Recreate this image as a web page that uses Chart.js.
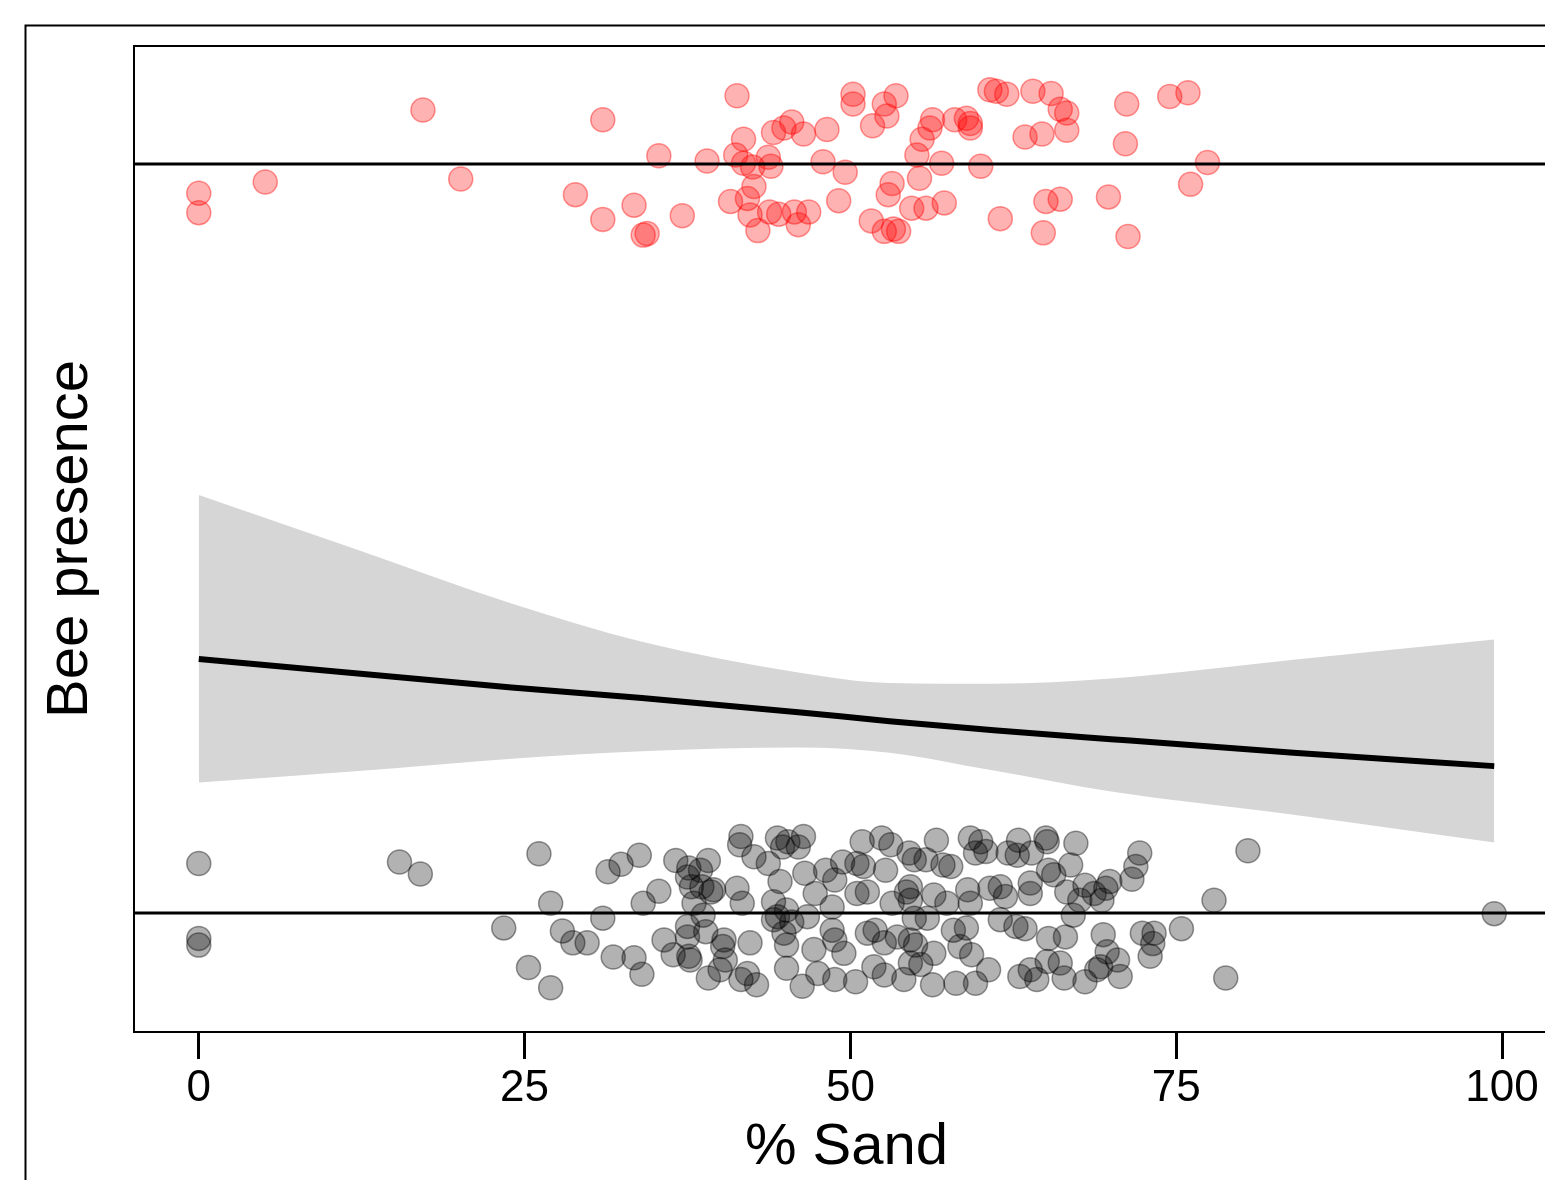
<!DOCTYPE html>
<html>
<head>
<meta charset="utf-8">
<script src="https://cdn.jsdelivr.net/npm/chart.js@4"></script>
<style>
  html, body { margin: 0; padding: 0; background: #fff; overflow: hidden; }
  #wrap { position: absolute; left: 0; top: 0; }
</style>
</head>
<body>
<div id="wrap"><canvas id="plot" width="1600" height="1200"></canvas></div>
<script>
// bees present (jittered around 1)
const presentSand = [
  0, 0, 5.1, 17.2, 20.1, 41.3, 31.0, 50.2, 50.2, 35.3,
  39.0, 41.8, 41.2, 41.8, 42.5, 43.7, 43.9, 44.1, 44.9, 45.5,
  46.4, 48.2, 47.9, 49.6, 42.6, 42.1, 40.8, 49.1, 28.9, 31.0,
  33.4, 37.1, 34.4, 34.1, 42.3, 42.9, 43.8, 44.5, 45.7, 46.8,
  46.0, 53.5, 52.6, 52.8, 51.7, 56.3, 56.1, 58.0, 58.9, 59.2,
  59.2, 55.5, 55.1, 57.0, 55.3, 60.0, 60.7, 61.2, 62.0, 64.0,
  65.4, 66.1, 66.6, 66.6, 63.4, 64.7, 71.2, 71.1, 53.2, 52.9,
  51.6, 52.6, 53.3, 53.7, 54.7, 55.8, 57.2, 61.5, 65.0, 66.1,
  64.8, 69.8, 71.3, 74.5, 75.9, 77.4, 76.1
];
const presentJitter = [
  0.961, 0.935, 0.976, 1.072, 0.980, 1.091, 1.059, 1.093, 1.080, 1.011,
  1.004, 1.033, 1.012, 1.001, 0.996, 1.009, 0.997, 1.042, 1.048, 1.056,
  1.040, 1.046, 1.003, 0.989, 0.970, 0.954, 0.950, 0.951, 0.959, 0.926,
  0.945, 0.931, 0.907, 0.905, 0.932, 0.911, 0.936, 0.933, 0.936, 0.936,
  0.919, 1.091, 1.080, 1.064, 1.051, 1.059, 1.048, 1.059, 1.061, 1.054,
  1.048, 1.033, 1.012, 1.001, 0.981, 0.997, 1.099, 1.097, 1.093, 1.097,
  1.094, 1.073, 1.068, 1.045, 1.036, 1.040, 1.080, 1.027, 0.974, 0.959,
  0.924, 0.910, 0.913, 0.910, 0.941, 0.941, 0.948, 0.927, 0.950, 0.953,
  0.908, 0.956, 0.903, 1.090, 1.095, 1.002, 0.973
];

// bees absent (jittered around 0)
const absentSand = [
  0, 0, 0, 15.4, 17.0, 26.1, 23.4, 25.3,
  27.0, 27.0, 27.9, 28.7, 29.8, 31.0, 31.4, 32.4, 33.8, 35.3,
  34.1, 31.8, 33.4, 34.0, 36.6, 37.6, 39.1, 38.5, 37.5, 37.8,
  38.6, 39.3, 38.0, 38.7, 37.5, 37.5, 38.9, 35.7, 36.4, 37.6,
  37.7, 39.1, 40.2, 40.4,
  41.6, 41.5, 44.4, 45.2, 46.4, 46.0, 44.8, 42.6, 43.7, 44.6,
  46.5, 48.1, 48.8, 49.4, 50.5, 50.9, 52.4, 53.1, 52.7, 51.0,
  54.5, 54.9,
  39.5, 41.3, 41.7, 44.1, 45.1, 44.4, 47.3, 48.6, 50.5, 51.3,
  53.2, 54.3, 54.6, 44.1, 45.5, 46.7, 40.3, 42.3, 44.9, 45.1,
  47.2, 48.6, 48.8, 49.5, 51.3, 51.9, 52.6, 53.6, 54.6, 40.0,
  41.6, 42.8, 42.1, 45.1, 46.3, 47.5, 48.8, 50.4, 51.8, 52.6,
  54.1, 54.6,
  56.6, 59.2, 60.0, 62.9, 65.0, 65.1, 67.3, 55.8, 57.7, 57.1,
  59.6, 60.4, 62.1, 63.9, 62.8, 65.6, 66.9, 65.2, 54.6, 56.4,
  57.4, 59.0, 59.2, 60.7, 61.5, 61.9, 63.8, 63.8, 66.6, 68.0,
  67.6, 69.3, 67.1, 54.9, 55.9, 61.5, 62.7, 63.4, 57.9, 58.9,
  55.0, 58.4, 56.4, 59.3, 60.6, 65.2, 66.5, 55.4, 56.3, 58.1,
  59.6, 63.0, 63.8, 64.3, 65.1, 66.1, 66.4, 68.0, 69.2, 69.4,
  69.7,
  72.2, 71.9, 71.6, 69.9, 69.6, 68.7, 80.5, 77.9, 99.4, 75.4,
  72.4, 73.3, 73.2, 73.0, 70.5, 68.9, 70.7, 78.8
];
const absentJitter = [
  0.066, -0.034, -0.043, 0.068, 0.052, 0.079, -0.020, -0.073,
  0.013, -0.100, -0.024, -0.040, -0.040, -0.007, 0.055, 0.065, 0.077, 0.029,
  0.013, -0.059, -0.060, -0.082, 0.070, 0.060, 0.070, 0.057, 0.048, 0.035,
  0.035, 0.028, 0.013, -0.003, -0.018, -0.032, -0.025, -0.036, -0.056, -0.058,
  -0.063, -0.087, -0.045, -0.063,
  0.102, 0.091, 0.100, 0.095, 0.102, 0.088, 0.088, 0.075, 0.066, 0.042,
  0.053, 0.057, 0.044, 0.068, 0.066, 0.095, 0.100, 0.091, 0.057, 0.062,
  0.080, 0.071,
  0.031, 0.033, 0.013, 0.015, 0.004, -0.005, 0.026, 0.008, 0.026, 0.028,
  0.013, 0.028, 0.017, -0.009, -0.012, -0.005, -0.036, -0.040, -0.027, -0.043,
  -0.049, -0.023, -0.036, -0.054, -0.027, -0.023, -0.040, -0.032, -0.036, -0.076,
  -0.089, -0.096, -0.081, -0.074, -0.098, -0.081, -0.089, -0.092, -0.072, -0.083,
  -0.089, -0.067,
  0.097, 0.100, 0.095, 0.097, 0.100, 0.095, 0.093, 0.071, 0.062, 0.064,
  0.080, 0.082, 0.080, 0.080, 0.077, 0.051, 0.064, 0.057, 0.035, 0.024,
  0.013, 0.031, 0.013, 0.033, 0.035, 0.022, 0.040, 0.026, 0.028, 0.037,
  0.017, 0.017, -0.003, -0.007, -0.007, -0.009, -0.018, -0.021, -0.023, -0.020,
  -0.043, -0.045, -0.054, -0.056, -0.076, -0.034, -0.032, -0.069, -0.096, -0.094,
  -0.094, -0.085, -0.076, -0.089, -0.065, -0.067, -0.087, -0.092, -0.072, -0.029,
  -0.052,
  0.080, 0.062, 0.045, 0.042, 0.033, 0.026, 0.083, 0.017, -0.001, -0.021,
  -0.027, -0.027, -0.041, -0.058, -0.063, -0.076, -0.085, -0.087
];

// fitted curve and its confidence band
const fitSand  = [0, 12, 24, 34, 46, 53, 61, 70, 84, 99.4];
const fitProb  = [0.339, 0.320, 0.301, 0.287, 0.268, 0.256, 0.244, 0.232, 0.214, 0.196];
const fitLower = [0.174, 0.189, 0.206, 0.216, 0.221, 0.214, 0.190, 0.162, 0.131, 0.094];
const fitUpper = [0.558, 0.486, 0.413, 0.362, 0.321, 0.307, 0.306, 0.313, 0.338, 0.365];

const refLevels = [0, 1];
const xTicks = [0, 25, 50, 75, 100];
const xMin = -4.97, xMax = 104.37;
const yMin = -0.159, yMax = 1.1575;

const FONT = "'Liberation Sans', Arial, sans-serif";

const pts = (xs, ys) => xs.map((x, i) => ({x: x, y: ys[i]}));

const frame = {
  id: 'frame',
  beforeDraw(chart) {
    const ctx = chart.ctx;
    ctx.save();
    ctx.fillStyle = '#fff';
    ctx.fillRect(0, 0, chart.width, chart.height);
    ctx.strokeStyle = '#000';
    ctx.lineWidth = 2;
    ctx.strokeRect(25.5, 25.5, chart.width - 10, chart.height - 10);
    ctx.restore();
  },
  afterDraw(chart) {
    const ctx = chart.ctx;
    const a = chart.chartArea;
    ctx.save();
    ctx.strokeStyle = '#000';
    ctx.lineWidth = 2;
    ctx.strokeRect(a.left, a.top, a.right - a.left, a.bottom - a.top);
    ctx.restore();
  }
};

const datasets = [
  {
    data: pts(fitSand, fitProb),
    borderColor: '#000', borderWidth: 6, pointRadius: 0,
    cubicInterpolationMode: 'monotone', fill: false, order: 1
  }
];
refLevels.forEach(level => {
  datasets.push({
    data: [{x: xMin, y: level}, {x: xMax, y: level}],
    borderColor: '#000', borderWidth: 3, pointRadius: 0, fill: false, order: 2
  });
});
datasets.push({
  data: pts(presentSand, presentJitter),
  showLine: false, pointRadius: 12, pointHoverRadius: 12, pointBorderWidth: 1.5,
  pointBackgroundColor: 'rgba(255,0,0,0.3)', pointBorderColor: 'rgba(255,0,0,0.4)', order: 3
});
datasets.push({
  data: pts(absentSand, absentJitter),
  showLine: false, pointRadius: 12, pointHoverRadius: 12, pointBorderWidth: 1.5,
  pointBackgroundColor: 'rgba(0,0,0,0.3)', pointBorderColor: 'rgba(0,0,0,0.4)', order: 3
});
datasets.push({
  data: pts(fitSand, fitUpper),
  borderWidth: 0, pointRadius: 0, cubicInterpolationMode: 'monotone',
  fill: '+1', backgroundColor: '#d6d6d6', order: 4
});
datasets.push({
  data: pts(fitSand, fitLower),
  borderWidth: 0, pointRadius: 0, cubicInterpolationMode: 'monotone',
  fill: false, order: 4
});

new Chart(document.getElementById('plot'), {
  type: 'line',
  data: { datasets: datasets },
  plugins: [frame],
  options: {
    responsive: false,
    animation: false,
    events: [],
    layout: { padding: { left: 0, top: 46, right: 41, bottom: 0 } },
    plugins: { legend: { display: false }, tooltip: { enabled: false } },
    scales: {
      x: {
        type: 'linear', min: xMin, max: xMax,
        afterBuildTicks: s => { s.ticks = xTicks.map(v => ({value: v})); },
        afterFit: s => { s.height = 168; },
        ticks: { color: '#000', padding: 3, autoSkip: false, maxRotation: 0,
                 font: { family: FONT, size: 44, lineHeight: 1.2 },
                 callback: v => String(v) },
        grid: { drawOnChartArea: false, drawTicks: true, tickLength: 27, tickWidth: 3, tickColor: '#000' },
        border: { display: false },
        title: { display: true, text: '% Sand', color: '#000',
                 font: { family: FONT, size: 58, lineHeight: 1.2 },
                 padding: { top: 0, bottom: 17 } }
      },
      y: {
        type: 'linear', min: yMin, max: yMax,
        afterFit: s => { s.width = 134; },
        ticks: { display: false },
        grid: { display: false, drawTicks: false },
        border: { display: false },
        title: { display: true, text: 'Bee presence', color: '#000',
                 font: { family: FONT, size: 58, lineHeight: 1.2 },
                 padding: { top: 36, bottom: 0 } }
      }
    }
  }
});
</script>
</body>
</html>
